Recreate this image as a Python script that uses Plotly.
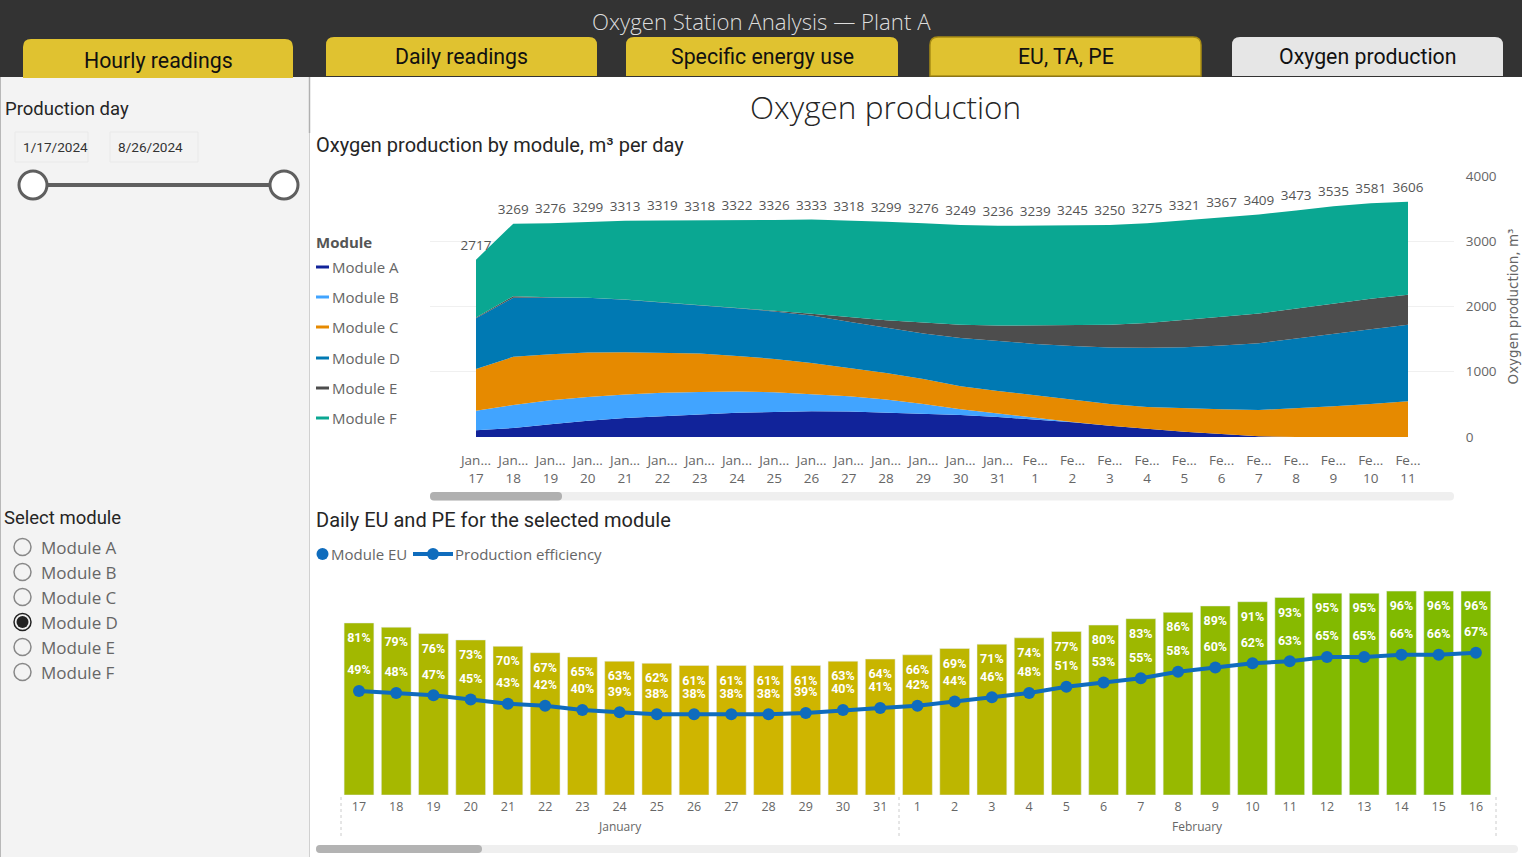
import plotly.graph_objects as go

W, H = 1522, 857

# top chart
top_days = ["Jan...<br>%d" % d for d in range(17, 32)] + ["Fe...<br>%d" % d for d in range(1, 12)]
module_a = [102, 138, 194, 250, 291, 322, 348, 373, 384, 394, 389, 373, 358, 338, 307, 271, 225, 174, 123, 82, 46, 10, 0, 0, 0, 0]
module_b = [302, 353, 369, 364, 359, 358, 342, 323, 301, 266, 235, 200, 148, 87, 51, 21, 5, 0, 0, 0, 0, 0, 0, 0, 0, 0]
module_c = [639, 737, 705, 680, 649, 614, 589, 547, 512, 476, 440, 409, 384, 352, 348, 347, 343, 332, 337, 358, 379, 404, 440, 470, 506, 547]
module_d = [778, 905, 870, 839, 803, 767, 741, 731, 726, 726, 701, 691, 696, 742, 762, 788, 823, 865, 906, 936, 976, 1023, 1069, 1116, 1146, 1172]
module_e = [10, 25, 5, 2, 5, 4, 5, 6, 10, 25, 71, 117, 168, 200, 240, 281, 318, 348, 383, 414, 440, 455, 460, 460, 466, 460]
module_f = [886, 1111, 1133, 1164, 1206, 1254, 1293, 1342, 1393, 1446, 1482, 1509, 1522, 1530, 1528, 1531, 1531, 1531, 1526, 1531, 1526, 1517, 1504, 1489, 1463, 1427]
totals = [2717, 3269, 3276, 3299, 3313, 3319, 3318, 3322, 3326, 3333, 3318, 3299, 3276, 3249, 3236, 3239, 3245, 3250, 3275, 3321, 3367, 3409, 3473, 3535, 3581, 3606]
module_names = ["Module A", "Module B", "Module C", "Module D", "Module E", "Module F"]
module_colors = ["#11239A", "#41A4FF", "#E68A00", "#0079B3", "#4D4D4D", "#0AA792"]
y_ticks = [0, 1000, 2000, 3000, 4000]

# bottom chart
bottom_days = [str(d) for d in range(17, 32)] + [str(d) for d in range(1, 17)]
module_eu = [81, 79, 76, 73, 70, 67, 65, 63, 62, 61, 61, 61, 61, 63, 64, 66, 69, 71, 74, 77, 80, 83, 86, 89, 91, 93, 95, 95, 96, 96, 96]
prod_eff = [49, 48, 47, 45, 43, 42, 40, 39, 38, 38, 38, 38, 38.6, 40, 41, 42, 44, 46, 48, 51, 53, 55, 58, 60, 62, 63, 65, 65, 66, 66, 67]

tabs = ["Hourly readings", "Daily readings", "Specific energy use", "EU, TA, PE", "Oxygen production"]

SEGOE = "Open Sans"
DIN = "Liberation Sans Narrow, Roboto"
GREY = "#666666"


def px(x):
    return x / W


def py(y):
    return 1 - y / H


def rect(x0, y0, x1, y1, fill, line=None, lw=1):
    return dict(type="rect", xref="paper", yref="paper", x0=px(x0), x1=px(x1), y0=py(y0), y1=py(y1),
                fillcolor=fill, line=dict(color=line or fill, width=lw if line else 0), layer="below")


def rounded(x0, y0, x1, y1, r, fill, line=None, bottom=True):
    # rounded box, bottom=False keeps the lower corners square
    rb = r if bottom else 0
    p = "M %f %f " % (px(x0), py(y0 + r))
    p += "Q %f %f %f %f " % (px(x0), py(y0), px(x0 + r), py(y0))
    p += "L %f %f " % (px(x1 - r), py(y0))
    p += "Q %f %f %f %f " % (px(x1), py(y0), px(x1), py(y0 + r))
    p += "L %f %f " % (px(x1), py(y1 - rb))
    p += "Q %f %f %f %f " % (px(x1), py(y1), px(x1 - rb), py(y1))
    p += "L %f %f " % (px(x0 + rb), py(y1))
    p += "Q %f %f %f %f Z" % (px(x0), py(y1), px(x0), py(y1 - rb))
    return dict(type="path", xref="paper", yref="paper", path=p, fillcolor=fill,
                line=dict(color=line or fill, width=1.5 if line else 0), layer="below")


def hline(x0, x1, y, color, width, dash="solid"):
    return dict(type="line", xref="paper", yref="paper", x0=px(x0), x1=px(x1), y0=py(y), y1=py(y),
                line=dict(color=color, width=width, dash=dash), layer="below")


def vline(x, y0, y1, color, width, dash="solid"):
    return dict(type="line", xref="paper", yref="paper", x0=px(x), x1=px(x), y0=py(y0), y1=py(y1),
                line=dict(color=color, width=width, dash=dash), layer="below")


def circle(x, y, r, fill, line=None, lw=1.5):
    return dict(type="circle", xref="paper", yref="paper", x0=px(x - r), x1=px(x + r), y0=py(y - r), y1=py(y + r),
                fillcolor=fill, line=dict(color=line or fill, width=lw if line else 0), layer="below")


def txt(x, y, text, size, color=GREY, family=SEGOE, anchor="left", weight=None):
    font = dict(size=size, color=color, family=family)
    if weight:
        font["weight"] = weight
    return dict(xref="paper", yref="paper", x=px(x), y=py(y), text=text, showarrow=False,
                xanchor=anchor, yanchor="middle", font=font, borderpad=0, borderwidth=0)


fig = go.Figure()

for name, vals, color in zip(module_names, [module_a, module_b, module_c, module_d, module_e, module_f], module_colors):
    fig.add_trace(go.Scatter(
        x=top_days, y=vals, name=name, mode="lines", stackgroup="one",
        line=dict(color=color, width=0), fillcolor=color, xaxis="x", yaxis="y"
    ))
fig.add_trace(go.Scatter(
    x=top_days, y=totals, mode="markers+text", text=[str(v) for v in totals], textposition="top center",
    marker=dict(size=9, opacity=0), textfont=dict(size=13.5, color="#555555", family=SEGOE),
    xaxis="x", yaxis="y", cliponaxis=False
))

fig.add_trace(go.Bar(
    x=bottom_days, y=module_eu, name="Module EU", width=0.8,
    marker=dict(color=module_eu, cmin=61, cmax=96, colorscale=[[0, "#CFB500"], [1, "#80BA00"]]),
    xaxis="x2", yaxis="y2"
))
fig.add_trace(go.Scatter(
    x=bottom_days, y=prod_eff, name="Production efficiency", mode="lines+markers",
    line=dict(color="#0F6CBD", width=4), marker=dict(size=12, color="#0F6CBD"),
    xaxis="x2", yaxis="y2"
))
fig.add_trace(go.Scatter(
    x=bottom_days, y=module_eu, mode="markers+text", text=["%.0f%%" % v for v in module_eu],
    textposition="bottom center", marker=dict(size=14, opacity=0),
    textfont=dict(size=12.5, color="white", family=DIN, weight="bold"), xaxis="x2", yaxis="y2"
))
fig.add_trace(go.Scatter(
    x=bottom_days, y=prod_eff, mode="markers+text", text=["%.0f%%" % v for v in prod_eff],
    textposition="top center", marker=dict(size=20, opacity=0),
    textfont=dict(size=12.5, color="white", family=DIN, weight="bold"), xaxis="x2", yaxis="y2"
))

shapes = [
    rect(0, 0, W, 77, "#333333"),
    rect(0, 77, 309, H, "#F3F3F3"),
    vline(309.5, 77, 133, "#B0B0B0", 1.5),
    vline(309.5, 133, H, "#D0D0D0", 1),
    vline(0.5, 77, H, "#B8B8B8", 1),
    rounded(23, 39, 293, 78, 8, "#E0C230", bottom=False),
    rounded(326, 37, 597, 76, 8, "#E0C230", bottom=False),
    rounded(626, 37, 898, 76, 8, "#E0C230", bottom=False),
    rounded(930, 37, 1201, 76, 8, "#E0C230", line="#A88C14", bottom=False),
    rounded(1232, 37, 1503, 76, 8, "#E6E6E6", bottom=False),
    rect(15, 132, 88, 162, "#F3F3F3", line="#E9E9E9"),
    rect(110, 132, 198, 162, "#F3F3F3", line="#E9E9E9"),
    hline(33, 284, 185, "#5F5F5F", 4),
    circle(33, 185, 14, "white", "#5F5F5F", 3),
    circle(284, 185, 14, "white", "#5F5F5F", 3),
    rounded(430, 492, 1454, 500.5, 4, "#EFEFEF"),
    rounded(430, 492, 562, 500.5, 4, "#B0B0B0"),
    rounded(316, 845, 1518, 853, 4, "#EFEFEF"),
    rounded(316, 845, 482, 853, 4, "#B3B3B3"),
    vline(341, 797, 837, "#CCCCCC", 1, "dot"),
    vline(899, 797, 837, "#CCCCCC", 1, "dot"),
    vline(1496, 797, 837, "#CCCCCC", 1, "dot"),
    circle(322.5, 554, 6, "#0F6CBD"),
    hline(413, 453, 554, "#0F6CBD", 4),
    circle(433, 554, 6, "#0F6CBD"),
]

annotations = [
    txt(761.5, 22, "Oxygen Station Analysis — Plant A", 22.2, "#DDDDDD", anchor="center", weight=300),
    txt(885, 107, "Oxygen production", 31.5, "#252525", anchor="center", weight=300),
    txt(316, 145, "Oxygen production by module, m³ per day", 20, "#252525", "Roboto"),
    txt(316, 520, "Daily EU and PE for the selected module", 20, "#252525", "Roboto"),
    txt(5, 109, "Production day", 18.5, "#252525", "Roboto"),
    txt(4, 518, "Select module", 18.5, "#252525", "Roboto"),
    txt(55.5, 147, "1/17/2024", 13.6, "#333333", "Roboto", "center"),
    txt(150.5, 147, "8/26/2024", 13.6, "#333333", "Roboto", "center"),
    txt(316, 242, "Module", 15, "#555555", weight="bold"),
    txt(331, 554, "Module EU", 15),
    txt(455, 554, "Production efficiency", 15),
    txt(620, 826, "January", 12, anchor="center"),
    txt(1197, 826, "February", 12, anchor="center"),
]

tab_pos = [(158, 60), (461.5, 57), (762, 57), (1065.5, 57), (1367.5, 57)]
for name, (x, y) in zip(tabs, tab_pos):
    annotations.append(txt(x, y, name, 21.3, "#111111", "Roboto", "center"))

legend_y = [267, 297, 327, 358, 388, 418]
for name, color, y in zip(module_names, module_colors, legend_y):
    shapes.append(hline(316, 329, y, color, 3))
    annotations.append(txt(332, y, name, 15))

radio_y = [547, 572, 597, 622, 647, 672]
for name, y in zip(module_names, radio_y):
    if name == "Module D":
        shapes.append(circle(22.5, y, 8.5, "#F3F3F3", "#222222"))
        shapes.append(circle(22.5, y, 6, "#222222"))
    else:
        shapes.append(circle(22.5, y, 8.5, "#F3F3F3", "#888888"))
    annotations.append(txt(41, y, name, 17))

fig.update_layout(
    width=W, height=H, margin=dict(l=0, r=0, t=0, b=0, autoexpand=False), autosize=False,
    paper_bgcolor="white", plot_bgcolor="rgba(0,0,0,0)", showlegend=False,
    shapes=shapes, annotations=annotations,
    xaxis=dict(
        domain=[px(430), px(1454)], type="category", categoryorder="array", categoryarray=top_days,
        range=[-1.234, 26.234], tickmode="array", tickvals=top_days, ticktext=top_days, tickangle=0,
        ticks="outside", ticklen=11, tickcolor="rgba(0,0,0,0)", showgrid=False, zeroline=False, showline=False,
        tickfont=dict(size=13.5, color=GREY, family=SEGOE), anchor="y"
    ),
    yaxis=dict(
        domain=[py(437), py(176)], range=[0, 4000], side="right", anchor="x", tickvals=y_ticks,
        ticks="outside", ticklen=8, tickcolor="rgba(0,0,0,0)", gridcolor="#F0F0F0", zeroline=False, showline=False,
        tickfont=dict(size=13.5, color=GREY, family=SEGOE),
        title=dict(text="Oxygen production, m³", standoff=12, font=dict(size=13.5, color=GREY, family="DejaVu Sans"))
    ),
    xaxis2=dict(
        domain=[px(340), px(1496)], type="category", categoryorder="array", categoryarray=bottom_days,
        range=[-0.51, 30.54], tickmode="array", tickvals=bottom_days, ticktext=bottom_days, tickangle=0,
        ticks="outside", ticklen=0, tickcolor="rgba(0,0,0,0)", showgrid=False, zeroline=False, showline=False,
        tickfont=dict(size=12.5, color=GREY, family=SEGOE), anchor="y2"
    ),
    yaxis2=dict(
        domain=[py(795), py(582.6)], range=[0, 100], visible=False, anchor="x2"
    ),
)

fig.write_html(
    "out.html", config=dict(displayModeBar=False),
    post_script="document.body.style.margin='0';document.body.style.overflow='hidden';"
)
